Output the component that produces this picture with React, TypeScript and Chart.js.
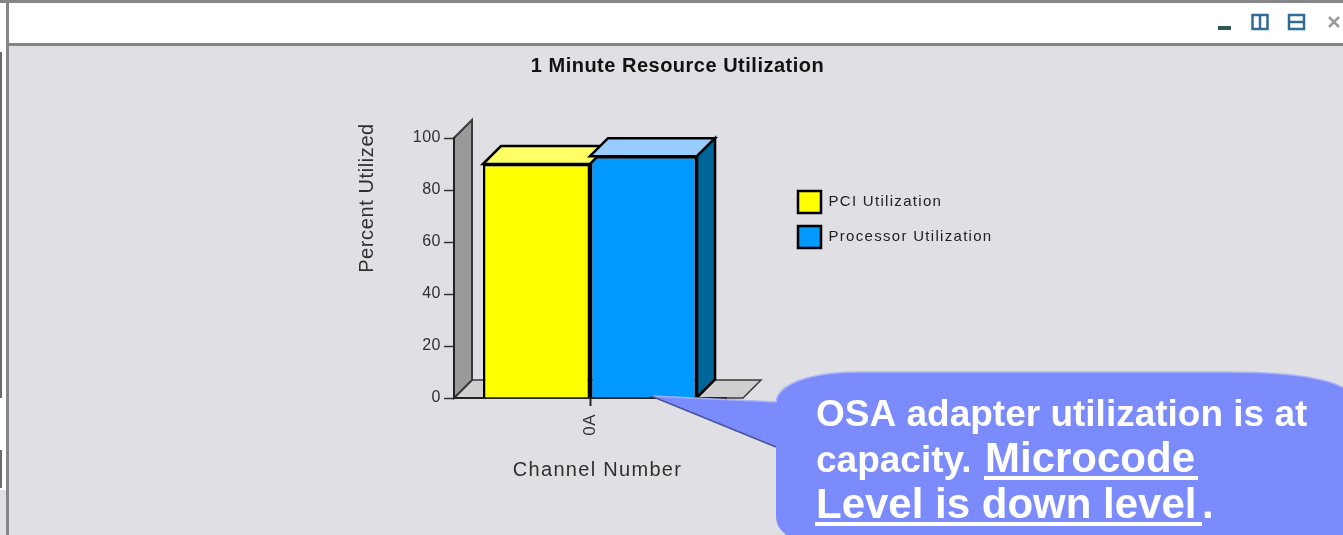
import React, { useEffect, useRef } from "react";
import { Chart, registerables } from "chart.js";

Chart.register(...registerables);

const categories = ["0A"];
const pciUtilization = [90];
const processorUtilization = [93];
const yTicks = [0, 20, 40, 60, 80, 100];
const chartTitle = "1 Minute Resource Utilization";
const yTitle = "Percent Utilized";
const xTitle = "Channel Number";

const SANS = '"Liberation Sans", Arial, sans-serif';
const DEPTH = 18;

function poly(ctx: any, pts: number[][], fill: string | null, stroke: string | null, lw = 2) {
  ctx.beginPath();
  pts.forEach((p, i) => (i ? ctx.lineTo(p[0], p[1]) : ctx.moveTo(p[0], p[1])));
  ctx.closePath();
  if (fill) { ctx.fillStyle = fill; ctx.fill(); }
  if (stroke) { ctx.strokeStyle = stroke; ctx.lineWidth = lw; ctx.stroke(); }
}

const decorPlugin = {
  id: "decor",
  afterLayout(chart: any) {
    const legend = chart.legend;
    if (legend) {
      legend.left = 785;
      legend.right = 1100;
      legend.top = 178;
      legend.bottom = 420;
      if (!legend.__spaced) {
        legend.__spaced = true;
        const draw = legend.draw.bind(legend);
        legend.draw = (area: any) => {
          chart.ctx.letterSpacing = "1.3px";
          draw(area);
          chart.ctx.letterSpacing = "0.5px";
        };
      }
    }
    if (chart.titleBlock) {
      chart.titleBlock.left += 137;
      chart.titleBlock.right += 137;
    }
  },
  beforeDraw(chart: any) {
    const { ctx, chartArea: a } = chart;
    ctx.save();
    ctx.fillStyle = "#e0dfe4";
    ctx.fillRect(0, 0, 1343, 535);
    ctx.fillStyle = "#ffffff";
    ctx.fillRect(0, 0, 1343, 44);
    ctx.fillRect(0, 0, 7, 535);
    ctx.fillStyle = "#86868a";
    ctx.fillRect(0, 0, 1343, 3);
    ctx.fillRect(8, 43, 1335, 3);
    ctx.fillRect(6, 0, 3, 535);
    ctx.fillStyle = "#6a6a6e";
    ctx.fillRect(0, 52, 2, 346);
    ctx.fillRect(0, 450, 2, 38);
    ctx.fillStyle = "#e0dfe4";
    ctx.fillRect(0, 490, 6, 45);

    // window buttons
    ctx.fillStyle = "#2f5a55";
    ctx.fillRect(1218, 26, 13, 4);
    ctx.strokeStyle = "#2f6d96";
    ctx.lineWidth = 2.5;
    ctx.strokeRect(1252.5, 15, 15, 14);
    ctx.beginPath(); ctx.moveTo(1260, 15); ctx.lineTo(1260, 29); ctx.stroke();
    ctx.strokeRect(1289, 15, 15, 14);
    ctx.beginPath(); ctx.moveTo(1289, 22); ctx.lineTo(1304, 22); ctx.stroke();
    ctx.strokeStyle = "#9a9a9a";
    ctx.lineWidth = 2.5;
    ctx.beginPath();
    ctx.moveTo(1329, 17); ctx.lineTo(1339, 27);
    ctx.moveTo(1339, 17); ctx.lineTo(1329, 27);
    ctx.stroke();

    // 3D back wall and floor
    const l = a.left, b = a.bottom, t = a.top, r = a.right;
    poly(ctx, [[l, b], [l + DEPTH, b - DEPTH], [r + 35, b - DEPTH], [r + 17, b]], "#cfcfcf", "#3a3a3a", 1.5);
    poly(ctx, [[l, b], [l + DEPTH, b - DEPTH], [l + DEPTH, t - DEPTH], [l, t]], "#9a9a9a", "#3a3a3a", 2);
    ctx.restore();
    ctx.letterSpacing = "0.5px";
  },
  afterDatasetsDraw(chart: any) {
    const { ctx } = chart;
    ctx.save();
    ctx.letterSpacing = "0px";
    const yellow = chart.getDatasetMeta(0).data[0];
    const blue = chart.getDatasetMeta(1).data[0];
    const box = (el: any) => ({
      l: el.x - el.width / 2,
      r: el.x + el.width / 2,
      t: el.y,
      b: el.base,
    });
    const y = box(yellow);
    const bl = box(blue);
    poly(ctx, [[y.l, y.t], [y.l + DEPTH, y.t - DEPTH], [y.r + DEPTH, y.t - DEPTH], [y.r, y.t]], "#ffff66", "#000", 2.5);
    poly(ctx, [[bl.l, bl.t], [bl.l + DEPTH, bl.t - DEPTH], [bl.r + DEPTH, bl.t - DEPTH], [bl.r, bl.t]], "#99ccff", "#000", 2.5);
    poly(ctx, [[bl.r, bl.t], [bl.r + DEPTH, bl.t - DEPTH], [bl.r + DEPTH, bl.b - DEPTH], [bl.r, bl.b]], "#006699", "#000", 2.5);
    ctx.restore();
  },
  afterDraw(chart: any) {
    const { ctx, chartArea: a } = chart;
    ctx.save();
    ctx.fillStyle = "#303030";
    ctx.font = `20px ${SANS}`;
    ctx.textAlign = "center";
    ctx.textBaseline = "middle";
    ctx.letterSpacing = "1.3px";
    ctx.fillText(xTitle, a.left + 143.5, 470);
    ctx.letterSpacing = "0.6px";
    ctx.translate(367, a.top + 60);
    ctx.rotate(-Math.PI / 2);
    ctx.fillText(yTitle, 0, 0);
    ctx.restore();

    // callout
    ctx.save();
    ctx.letterSpacing = "0px";
    ctx.beginPath();
    ctx.moveTo(651, 396);
    ctx.lineTo(776, 402);
    ctx.bezierCurveTo(778, 384, 810, 372, 860, 372);
    ctx.lineTo(1220, 372);
    ctx.bezierCurveTo(1280, 372, 1330, 376, 1350, 392);
    ctx.lineTo(1350, 540);
    ctx.lineTo(792, 540);
    ctx.bezierCurveTo(782, 532, 776, 526, 776, 516);
    ctx.lineTo(776, 447);
    ctx.closePath();
    ctx.fillStyle = "#7b8bfb";
    ctx.fill();
    ctx.strokeStyle = "#a8b4fa";
    ctx.lineWidth = 1.5;
    ctx.beginPath();
    ctx.moveTo(651, 396);
    ctx.lineTo(776, 402);
    ctx.bezierCurveTo(778, 384, 810, 372, 860, 372);
    ctx.lineTo(1220, 372);
    ctx.bezierCurveTo(1280, 372, 1330, 376, 1350, 392);
    ctx.stroke();
    ctx.strokeStyle = "#46559a";
    ctx.beginPath();
    ctx.moveTo(651, 396);
    ctx.lineTo(776, 447);
    ctx.stroke();

    ctx.fillStyle = "#ffffff";
    ctx.textAlign = "left";
    ctx.textBaseline = "alphabetic";
    ctx.font = `bold 37px ${SANS}`;
    ctx.fillText("OSA adapter utilization is at", 816, 426);
    ctx.fillText("capacity.", 816, 472);
    ctx.font = `bold 42px ${SANS}`;
    ctx.fillText("Microcode", 985, 472);
    ctx.fillRect(984, 476, 214, 4);
    ctx.fillText("Level is down level", 816, 518);
    ctx.fillRect(815, 522, 387, 4);
    ctx.fillText(".", 1202, 518);
    ctx.restore();
  },
};

export default function App() {
  const ref = useRef<HTMLCanvasElement>(null);
  useEffect(() => {
    const chart = new Chart(ref.current as HTMLCanvasElement, {
      type: "bar",
      data: {
        labels: categories,
        datasets: [
          { label: "PCI Utilization", data: pciUtilization, backgroundColor: "#ffff00", borderColor: "#000000", borderWidth: 2.5 },
          { label: "Processor Utilization", data: processorUtilization, backgroundColor: "#0099ff", borderColor: "#000000", borderWidth: 2.5 },
        ],
      },
      options: {
        responsive: false,
        animation: false,
        events: [],
        layout: { padding: { left: 355, right: 617, top: 0, bottom: 0 } },
        datasets: { bar: { categoryPercentage: 0.787, barPercentage: 1 } },
        plugins: {
          tooltip: { enabled: false },
          title: {
            display: true,
            text: chartTitle,
            color: "#111111",
            font: { family: SANS, size: 20, weight: "bold" },
            padding: { top: 54, bottom: 60 },
          },
          legend: {
            display: true,
            position: "chartArea",
            align: "start",
            labels: {
              boxWidth: 23,
              boxHeight: 22,
              padding: 13,
              color: "#222222",
              font: { family: SANS, size: 15 },
            },
          },
        },
        scales: {
          x: {
            afterFit: (s: any) => { s.height = 137; },
            grid: { display: true, offset: false, drawOnChartArea: false, color: "#222222", tickLength: 8, tickWidth: 2 },
            border: { color: "#222222", width: 2 },
            ticks: { minRotation: 90, maxRotation: 90, color: "#303030", padding: 8, font: { family: SANS, size: 17 } },
          },
          y: {
            min: 0,
            max: 100,
            afterFit: (s: any) => { s.width = 99; },
            afterBuildTicks: (s: any) => { s.ticks = yTicks.map((value) => ({ value })); },
            grid: { display: true, drawOnChartArea: false, color: "#333333", tickLength: 10, tickWidth: 1.5 },
            border: { color: "#222222", width: 2 },
            ticks: { color: "#303030", padding: 3, font: { family: SANS, size: 16 } },
          },
        },
      },
      plugins: [decorPlugin],
    } as any);
    return () => chart.destroy();
  }, []);
  return (
    <canvas
      ref={ref}
      width={1343}
      height={535}
      style={{ position: "fixed", left: 0, top: 0, width: 1343, height: 535, display: "block", filter: "blur(0.6px)" }}
    />
  );
}
